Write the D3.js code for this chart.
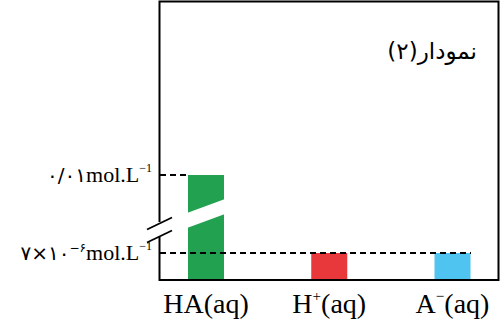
<!DOCTYPE html>
<html>
<head>
<meta charset="utf-8">
<script src="https://cdn.jsdelivr.net/npm/d3@7"></script>
<style>
  body { margin: 0; background: #fff; }
  svg { display: block; }
</style>
</head>
<body>
<div id="chart"></div>
<script>
// داده‌ها
const species = ["HA", "H", "A"];
const speciesSup = ["", "+", "−"];
const concentrations = [0.01, 7e-6, 7e-6];
const barColors = ["#22a250", "#e8383c", "#4fc4f0"];
const tickValues = [0.01, 7e-6];
const tickNumbers = [["۰/۰۱", ""], ["۷×۱۰", "−۶"]];
const titleText = "نمودار(۲)";

const width = 500, height = 321;
const box = { left: 159.5, right: 498.5, top: 1.5, bottom: 280 };

const svg = d3.select("#chart").append("svg")
    .attr("width", width)
    .attr("height", height);

// محور شکسته: مقیاس تکه‌ای
const y = d3.scaleLinear()
    .domain([0, 7e-6, 0.01])
    .range([box.bottom, 253, 175]);

const x = d3.scalePoint()
    .domain(species)
    .range([206, 452.5]);

const barW = 36;

// میله‌ها
svg.selectAll(".bar")
    .data(species)
    .enter()
    .append("rect")
    .attr("class", "bar")
    .attr("x", d => x(d) - barW / 2)
    .attr("y", (d, i) => y(concentrations[i]))
    .attr("width", barW)
    .attr("height", (d, i) => box.bottom - y(concentrations[i]))
    .attr("fill", (d, i) => barColors[i]);

// شکست در میله اول
const barBreakY = (y(7e-6) + y(0.01)) / 2;
const bx0 = x("HA") - barW / 2 - 1, bx1 = x("HA") + barW / 2 + 1;
svg.append("polygon")
    .attr("points", [
        [bx0, barBreakY - 1], [bx1, barBreakY - 15],
        [bx1, barBreakY], [bx0, barBreakY + 14]
    ].map(p => p.join(",")).join(" "))
    .attr("fill", "#fff");

// خطوط خط‌چین
svg.selectAll(".guide")
    .data(tickValues)
    .enter()
    .append("line")
    .attr("x1", box.left)
    .attr("x2", (d, i) => i === 0 ? x("HA") - barW / 2 : x("A") + barW / 2)
    .attr("y1", d => y(d))
    .attr("y2", d => y(d))
    .attr("stroke", "#000")
    .attr("stroke-width", 1.3)
    .attr("shape-rendering", "crispEdges")
    .attr("stroke-dasharray", "6,4");

// کادر
const axisBreakY = y(7e-6) - 23;
svg.append("path")
    .attr("d", `M${box.left},${axisBreakY - 8} V${box.top} H${box.right} V${box.bottom} H${box.left} V${axisBreakY + 7}`)
    .attr("fill", "none")
    .attr("stroke", "#000")
    .attr("stroke-width", 2);

// علامت شکست محور
[-6.5, 6.5].forEach(off => {
    svg.append("line")
        .attr("x1", 147).attr("y1", axisBreakY + off + 6)
        .attr("x2", 172).attr("y2", axisBreakY + off - 6)
        .attr("stroke", "#000")
        .attr("stroke-width", 1.8);
});

// برچسب‌های محور عمودی
const yLabels = svg.selectAll(".ylab")
    .data(tickValues)
    .enter()
    .append("text")
    .attr("class", "ylab")
    .attr("x", 152)
    .attr("y", d => y(d) + 7)
    .attr("text-anchor", "end")
    .attr("fill", "#000");

yLabels.append("tspan")
    .style("font-family", "DejaVu Sans")
    .style("font-size", "20px")
    .style("letter-spacing", (d, i) => i === 0 ? "4px" : "1px")
    .text((d, i) => tickNumbers[i][0]);
yLabels.append("tspan")
    .style("font-family", "DejaVu Sans")
    .style("font-size", "12px")
    .attr("dy", -8)
    .text((d, i) => tickNumbers[i][1]);
yLabels.append("tspan")
    .style("font-family", "Liberation Serif")
    .style("font-size", "22px")
    .attr("dy", (d, i) => tickNumbers[i][1] ? 8 : 0)
    .text("mol.L");
yLabels.append("tspan")
    .style("font-family", "Liberation Serif")
    .style("font-size", "12px")
    .attr("dy", -10)
    .text("−1");

// برچسب‌های محور افقی
const xLabels = svg.selectAll(".xlab")
    .data(species)
    .enter()
    .append("text")
    .attr("class", "xlab")
    .attr("x", d => x(d))
    .attr("y", 313)
    .attr("text-anchor", "middle")
    .style("font-family", "Liberation Serif")
    .style("font-size", "28px")
    .attr("fill", "#000");

xLabels.append("tspan").text(d => d);
xLabels.append("tspan")
    .style("font-size", "15px")
    .attr("dy", -12)
    .text((d, i) => speciesSup[i]);
xLabels.append("tspan")
    .attr("dy", (d, i) => speciesSup[i] ? 12 : 0)
    .text("(aq)");

// عنوان
svg.append("text")
    .attr("x", 477)
    .attr("y", 59)
    .attr("text-anchor", "end")
    .style("font-family", "DejaVu Sans")
    .style("font-size", "23px")
    .attr("fill", "#000")
    .text(titleText);
</script>
</body>
</html>
